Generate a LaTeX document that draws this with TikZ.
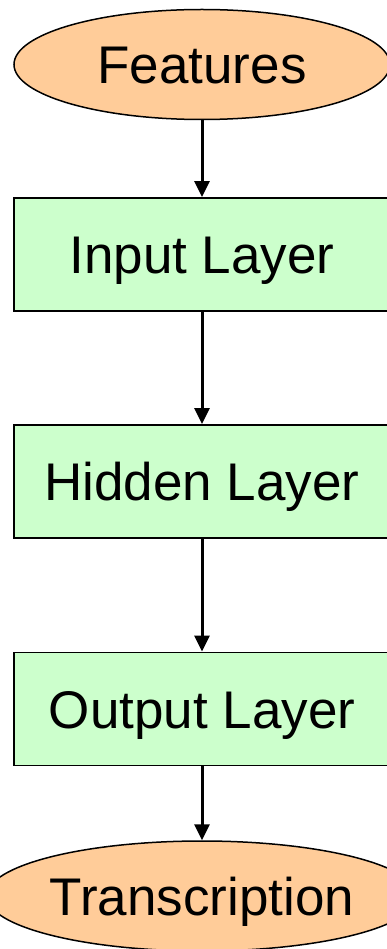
\documentclass[tikz,border=0pt]{standalone}
\usepackage{fontspec}
\setmainfont{Liberation Sans}
\usetikzlibrary{shapes.geometric,arrows.meta}
\definecolor{peach}{HTML}{FFCC99}
\definecolor{palegreen}{HTML}{CCFFCC}
\tikzset{
  label text/.style={font=\fontsize{53}{60}\selectfont,
    text height=38pt, text depth=0pt},
  terminal/.style={ellipse, draw=black, line width=1.5pt, fill=peach,
    minimum width=376pt, minimum height=110pt, inner sep=0pt, label text},
  layerbox/.style={rectangle, draw=black, line width=1.8pt, fill=palegreen,
    minimum width=376pt, minimum height=113pt, inner sep=0pt, label text},
  flow/.style={line width=3pt, -{Triangle[width=15pt,length=16pt]}}
}
\begin{document}
\begin{tikzpicture}[x=1pt,y=-1pt]
  \useasboundingbox (0,0) rectangle (387,949);
  \node[terminal] (feat) at (202,64.5) {Features};
  \node[layerbox] (inp) at (202,254.5) {Input Layer};
  \node[layerbox] (hid) at (202,481.5) {Hidden Layer};
  \node[layerbox] (out) at (202,709) {Output Layer};
  \node[terminal] (trans) at (202,896) {Transcription};
  \draw[flow] (feat) -- (inp);
  \draw[flow] (inp) -- (hid);
  \draw[flow] (hid) -- (out);
  \draw[flow] (out) -- (trans);
\end{tikzpicture}
\end{document}
